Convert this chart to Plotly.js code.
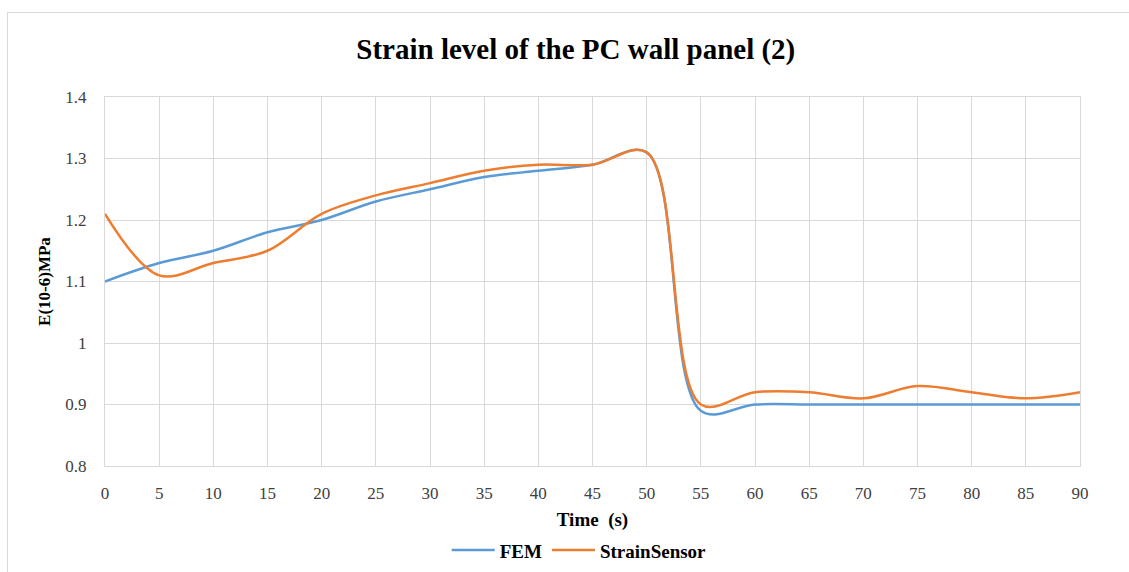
<!DOCTYPE html>
<html>
<head>
<meta charset="utf-8">
<script src="https://cdn.plot.ly/plotly-3.0.1.min.js"></script>
<style>
  body { margin: 0; background: #fff; }
  #plot { width: 1129px; height: 572px; }
  #frame { position: absolute; left: 7px; top: 12px; width: 1122px; height: 560px;
           border-top: 1px solid #d9d9d9; border-left: 1px solid #d9d9d9; pointer-events: none; }
</style>
</head>
<body>
<div id="plot"></div>
<div id="frame"></div>
<script>
// time in seconds
let time = [0, 5, 10, 15, 20, 25, 30, 35, 40, 45, 50, 55, 60, 65, 70, 75, 80, 85, 90];

let femValues = [1.10, 1.13, 1.15, 1.18, 1.20, 1.23, 1.25, 1.27, 1.28, 1.29, 1.31, 0.89, 0.90, 0.90, 0.90, 0.90, 0.90, 0.90, 0.90];
let sensorValues = [1.21, 1.11, 1.13, 1.15, 1.21, 1.24, 1.26, 1.28, 1.29, 1.29, 1.31, 0.90, 0.92, 0.92, 0.91, 0.93, 0.92, 0.91, 0.92];

let xTicks = [0, 5, 10, 15, 20, 25, 30, 35, 40, 45, 50, 55, 60, 65, 70, 75, 80, 85, 90];
let yTicks = [0.8, 0.9, 1, 1.1, 1.2, 1.3, 1.4];

let serif = 'Liberation Serif, Times New Roman, serif';

let trace1 = {
  x: time,
  y: femValues,
  name: '<b>FEM</b>',
  mode: 'lines',
  line: {color: '#5B9BD5', width: 2.5, shape: 'spline', smoothing: 1},
  type: 'scatter'
};

let trace2 = {
  x: time,
  y: sensorValues,
  name: '<b>StrainSensor</b>',
  mode: 'lines',
  line: {color: '#ED7D31', width: 2.5, shape: 'spline', smoothing: 1},
  type: 'scatter'
};

let data = [trace1, trace2];

let layout = {
  width: 1129,
  height: 572,
  margin: {l: 105, r: 49, t: 97, b: 106},
  paper_bgcolor: 'rgba(0,0,0,0)',
  plot_bgcolor: '#fff',
  title: {
    text: '<b>Strain level of the PC wall panel (2)</b>',
    font: {family: serif, size: 29, color: '#000'},
    x: 0.51, xanchor: 'center', y: 0.915, yanchor: 'middle',
    automargin: false
  },
  xaxis: {
    range: [0, 90],
    automargin: false,
    tickvals: xTicks,
    ticktext: xTicks.map(String),
    showgrid: true, gridcolor: '#d9d9d9', gridwidth: 1,
    showline: true, linecolor: '#d9d9d9', mirror: true,
    zeroline: false, ticks: '',
    ticklabelstandoff: 12,
    tickfont: {family: serif, size: 17, color: '#404040'},
    title: {text: '<b>Time  (s)</b>', font: {family: serif, size: 19, color: '#000'}, standoff: 12}
  },
  yaxis: {
    range: [0.8, 1.4],
    automargin: false,
    tickvals: yTicks,
    ticktext: ['0.8', '0.9', '1', '1.1', '1.2', '1.3', '1.4'],
    showgrid: true, gridcolor: '#d9d9d9', gridwidth: 1,
    showline: true, linecolor: '#d9d9d9', mirror: true,
    zeroline: false, ticks: '',
    ticklabelstandoff: 14,
    tickfont: {family: serif, size: 17, color: '#404040'},
    title: {text: '<b>E(10-6)MPa</b>', font: {family: serif, size: 17, color: '#000'}, standoff: 10}
  },
  showlegend: true,
  legend: {
    orientation: 'h',
    xref: 'container', yref: 'container',
    x: 0.513, xanchor: 'center',
    y: 0.038, yanchor: 'middle',
    font: {family: serif, size: 19, color: '#000'},
    itemwidth: 43
  }
};

Plotly.newPlot('plot', data, layout, {displayModeBar: false});
</script>
</body>
</html>
